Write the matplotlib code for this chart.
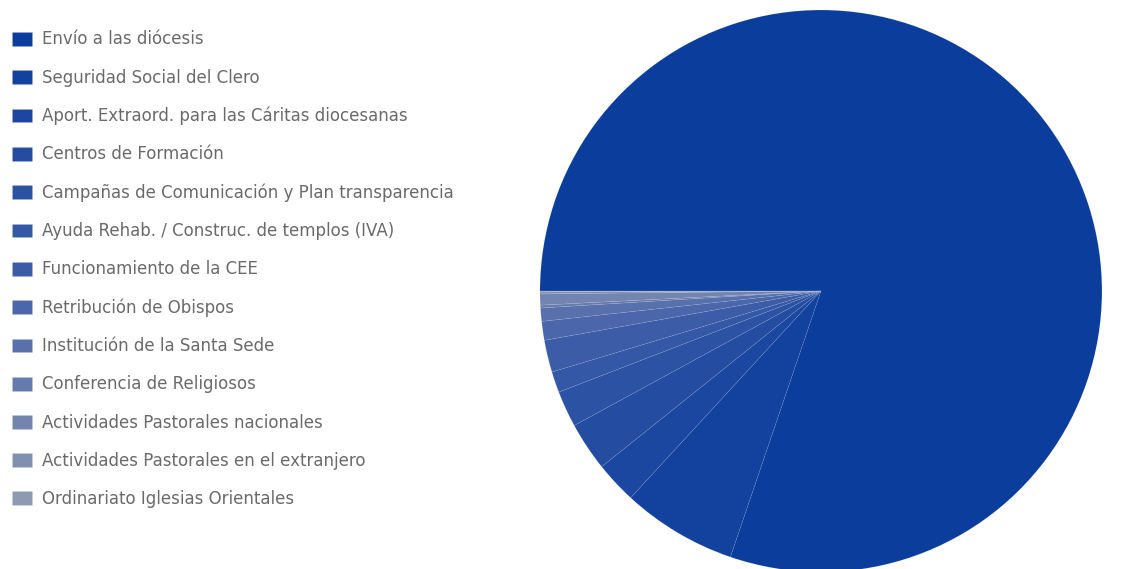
import matplotlib
matplotlib.use("Agg")
from matplotlib import pyplot as plt
from matplotlib.colors import LinearSegmentedColormap

labels = [
    "Envío a las diócesis",
    "Seguridad Social del Clero",
    "Aport. Extraord. para las Cáritas diocesanas",
    "Centros de Formación",
    "Campañas de Comunicación y Plan transparencia",
    "Ayuda Rehab. / Construc. de templos (IVA)",
    "Funcionamiento de la CEE",
    "Retribución de Obispos",
    "Institución de la Santa Sede",
    "Conferencia de Religiosos",
    "Actividades Pastorales nacionales",
    "Actividades Pastorales en el extranjero",
    "Ordinariato Iglesias Orientales",
]
values = [200.0, 16.5, 6.0, 7.0, 5.2, 3.0, 4.6, 2.7, 1.9, 0.4, 1.6, 0.3, 0.1]

cmap = LinearSegmentedColormap.from_list("cee", ["#0a3d9c", "#3d5ca8", "#8e99b2"])
colors = [cmap(i / (len(values) - 1)) for i in range(len(values))]
colors[0] = "#0a3d9c"

fig = plt.figure(figsize=(11.21, 5.69), dpi=100)
ax = fig.add_axes([0.4817, -0.0053, 0.5013, 0.9877])
wedges, _ = ax.pie(values, colors=colors, startangle=180, counterclock=False,
                   radius=1.0, wedgeprops=dict(edgecolor=(1, 1, 1, 0.1), linewidth=0.5))
ax.set_xlim(-1, 1)
ax.set_ylim(-1, 1)
ax.set_aspect("equal")
ax.axis("off")

leg = fig.legend(wedges, labels, loc="upper left", bbox_to_anchor=(0.0, 0.967),
                 frameon=False, prop={"family": "DejaVu Sans", "size": 12},
                 handlelength=1.2, handleheight=0.9,
                 handletextpad=0.6, labelspacing=1.21, borderaxespad=0.3)
for t in leg.get_texts():
    t.set_color("#6a6a6a")

plt.savefig("out.png", dpi=100)
